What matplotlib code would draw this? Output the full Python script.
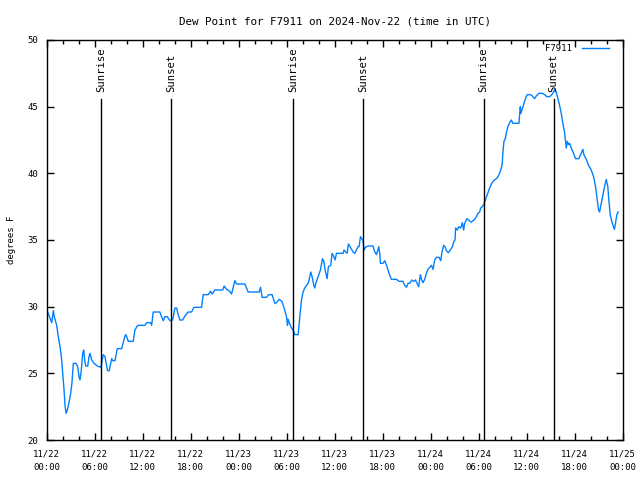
import matplotlib
matplotlib.use('Agg')
from matplotlib import pyplot as plt
import matplotlib.dates as mdates
import pandas as pd

# hours since 2024-11-22 00:00 UTC, dew point in F
hours = [0.00, 0.22, 0.52, 0.65, 0.85, 0.97, 1.27, 1.47, 1.69, 1.90, 2.02, 2.19, 2.31, 2.44, 2.60, 2.81,
         3.02, 3.18, 3.35, 3.68, 3.90, 4.06, 4.18, 4.35, 4.52, 4.65, 4.77, 4.90, 5.15, 5.31, 5.43, 5.65,
         5.93, 6.34, 6.81, 6.93, 7.09, 7.31, 7.52, 7.64, 7.84, 8.02, 8.14, 8.27, 8.56, 8.84, 9.39, 9.80,
         9.93, 10.22, 10.84, 11.05, 11.34, 11.47, 12.30, 12.51, 13.01, 13.14, 13.34, 14.17, 14.38, 14.59,
         14.80, 15.09, 15.42, 15.76, 16.05, 16.26, 16.46, 16.67, 17.01, 17.30, 17.71, 17.92, 18.13, 18.42,
         19.38, 19.58, 20.21, 20.51, 20.71, 21.04, 22.01, 22.21, 22.51, 22.83, 23.13, 23.54, 23.75, 24.79,
         25.20, 26.58, 26.75, 26.95, 27.50, 27.75, 28.20, 28.54, 28.75, 29.08, 29.41, 29.70, 30.00, 30.12,
         30.20, 30.41, 30.62, 30.82, 31.04, 31.45, 31.66, 31.87, 32.07, 32.28, 32.50, 32.70, 32.82, 33.03,
         33.20, 33.41, 33.53, 33.66, 33.95, 34.24, 34.49, 34.66, 34.87, 35.07, 35.24, 35.53, 35.69, 35.91,
         36.07, 36.24, 37.07, 37.19, 37.40, 37.57, 37.74, 37.99, 38.32, 38.53, 38.74, 38.94, 39.07, 39.24,
         39.40, 39.57, 39.69, 39.87, 40.19, 40.81, 41.03, 41.24, 41.53, 41.65, 41.74, 42.06, 42.28, 42.56,
         42.81, 43.11, 43.74, 44.06, 44.56, 44.77, 44.99, 45.19, 45.40, 45.65, 45.90, 46.11, 46.31, 46.52,
         46.73, 46.90, 47.06, 47.27, 47.48, 47.68, 47.89, 48.11, 48.31, 48.52, 48.73, 49.06, 49.27, 49.43,
         49.64, 49.81, 49.98, 50.23, 50.48, 50.73, 50.93, 51.06, 51.14, 51.35, 51.55, 51.77, 51.98, 52.14,
         52.27, 52.55, 52.77, 53.01, 53.23, 53.51, 53.73, 53.93, 54.14, 54.27, 54.48, 54.68, 54.89, 55.10,
         55.30, 55.60, 55.89, 56.23, 56.43, 56.64, 56.85, 56.97, 57.05, 57.18, 57.35, 57.47, 57.67, 57.89,
         58.10, 58.30, 59.05, 59.22, 59.30, 59.42, 59.55, 59.76, 59.97, 60.10, 60.47, 60.72, 61.01, 61.22,
         61.55, 61.97, 62.26, 62.54, 62.88, 63.17, 63.38, 63.51, 63.72, 63.92, 64.13, 64.34, 64.54, 64.75,
         64.88, 64.97, 65.09, 65.26, 65.38, 65.59, 65.88, 66.13, 66.54, 66.84, 67.04, 67.17, 67.47, 67.75,
         68.09, 68.38, 68.63, 68.79, 69.00, 69.13, 69.34, 69.54, 69.75, 69.96, 70.16, 70.29, 70.46, 70.66,
         70.86, 70.99, 71.12, 71.29, 71.46]
dewpoint = [29.75, 29.5, 29.0, 28.8, 29.7, 29.25, 28.6, 27.75, 27.0, 26.0, 25.0, 23.75, 22.6, 22.0, 22.25, 22.8,
            23.5, 24.3, 25.75, 25.75, 25.5, 24.75, 24.5, 25.25, 26.5, 26.75, 26.0, 25.55, 25.55, 26.25, 26.5, 26.0,
            25.75, 25.55, 25.45, 25.9, 26.4, 26.25, 25.5, 25.2, 25.2, 25.75, 26.1, 25.95, 25.95, 26.85, 26.85, 27.8,
            27.9, 27.4, 27.4, 28.25, 28.55, 28.6, 28.6, 28.8, 28.8, 28.6, 29.6, 29.6, 29.25, 28.95,
            29.25, 29.25, 28.95, 29.0, 29.9, 29.9, 29.4, 29.0, 29.0, 29.3, 29.6, 29.6, 29.6, 29.95,
            29.95, 30.9, 30.9, 31.15, 30.95, 31.25, 31.25, 31.55, 31.3, 31.2, 30.95, 31.95, 31.7, 31.7,
            31.1, 31.1, 31.45, 30.7, 30.7, 30.9, 30.9, 30.25, 30.3, 30.55, 30.4, 29.9, 29.25, 28.6,
            29.05, 28.7, 28.4, 28.25, 27.9, 27.9, 29.25, 30.5, 31.1, 31.4, 31.6, 31.75, 32.0, 32.6,
            32.25, 31.6, 31.4, 31.75, 32.25, 32.75, 33.6, 33.4, 32.6, 32.1, 33.0, 33.1, 34.0, 33.75,
            33.5, 34.0, 34.0, 34.25, 34.1, 34.0, 34.7, 34.45, 34.1, 34.0, 34.25, 34.5, 34.5, 35.25,
            35.1, 34.95, 34.25, 34.45, 34.55, 34.55, 34.1, 33.9, 34.5, 34.0, 33.25, 33.25, 33.45, 33.0,
            32.5, 32.05, 32.05, 31.9, 31.9, 31.6, 31.45, 31.75, 31.75, 32.0, 31.9, 32.0, 31.75, 31.5,
            32.4, 32.0, 31.8, 32.05, 32.5, 32.8, 32.95, 33.1, 32.8, 33.5, 33.7, 33.7, 33.45, 34.1,
            34.6, 34.5, 34.2, 34.05, 34.25, 34.5, 34.9, 35.0, 35.9, 35.75, 36.0, 35.9, 36.3, 35.75,
            36.25, 36.6, 36.5, 36.35, 36.4, 36.55, 36.75, 37.0, 37.1, 37.4, 37.5, 37.7, 38.05, 38.4,
            38.75, 39.2, 39.45, 39.6, 39.75, 40.0, 40.4, 40.75, 41.6, 42.4, 42.6, 43.0, 43.5, 43.8,
            44.0, 43.75, 43.75, 45.0, 44.5, 44.75, 45.0, 45.4, 45.75, 45.9, 45.9, 45.8, 45.6, 45.8,
            46.0, 46.0, 45.9, 45.75, 45.75, 45.9, 46.1, 46.3, 46.1, 45.6, 45.1, 44.5, 43.75, 43.1,
            42.4, 41.9, 42.4, 42.15, 42.25, 41.9, 41.5, 41.1, 41.1, 41.5, 41.8, 41.4, 41.05, 40.6,
            40.25, 39.75, 39.0, 38.25, 37.25, 37.1, 37.75, 38.4, 39.0, 39.55, 39.0, 38.0, 36.9, 36.4,
            36.0, 35.8, 36.25, 36.9, 37.1]

sunrise = ['2024-11-22 06:50', '2024-11-23 06:49', '2024-11-24 06:38']
sunset = ['2024-11-22 15:35', '2024-11-23 15:34', '2024-11-24 15:23']

start = pd.Timestamp('2024-11-22 00:00')
times = start + pd.to_timedelta(hours, unit='h')

plt.rcParams['font.family'] = 'DejaVu Sans Mono'
plt.rcParams['font.size'] = 6.5

fig = plt.figure(figsize=(6.4, 4.8), dpi=100)
ax = fig.add_axes([0.0727, 0.0833, 0.9, 0.8334])

ax.plot(times, dewpoint, color='#0080ff', lw=1.0, label='F7911')

# sunrise / sunset markers
for t in sunrise:
    ax.plot([pd.Timestamp(t)] * 2, [20, 45.6], color='black', lw=1.0)
    ax.text(pd.Timestamp(t), 46.1, 'Sunrise', rotation=90, ha='center', va='bottom', fontsize=7.6)
for t in sunset:
    ax.plot([pd.Timestamp(t)] * 2, [20, 45.6], color='black', lw=1.0)
    ax.text(pd.Timestamp(t), 46.1, 'Sunset', rotation=90, ha='center', va='bottom', fontsize=7.6)

ax.set_xlim(start, pd.Timestamp('2024-11-25 00:00'))
ax.set_ylim(20, 50)
ax.set_yticks(range(20, 51, 5))
ax.xaxis.set_major_locator(mdates.HourLocator(byhour=range(0, 24, 6)))
ax.xaxis.set_minor_locator(mdates.HourLocator(byhour=range(0, 24, 2)))
ax.xaxis.set_major_formatter(mdates.DateFormatter('%m/%d\n%H:%M'))
ax.tick_params(which='both', direction='in', top=True, right=True, colors='black')
ax.tick_params(which='major', length=5, width=1)
ax.tick_params(which='minor', length=3, width=1)
ax.tick_params(axis='x', pad=7)
ax.tick_params(axis='y', pad=6)
for s in ax.spines.values():
    s.set_linewidth(1.0)

ax.set_ylabel('degrees F', labelpad=8)
ax.set_title('Dew Point for F7911 on 2024-Nov-22 (time in UTC)', pad=11)
ax.legend(loc='upper right', bbox_to_anchor=(0.977, 0.99), frameon=False, markerfirst=False,
          handlelength=3.0, handletextpad=1.1, borderaxespad=0, borderpad=0)

fig.canvas.draw()
for lbl in ax.get_xticklabels():
    lbl.set_linespacing(1.6)

plt.savefig('out.png', dpi=100)
